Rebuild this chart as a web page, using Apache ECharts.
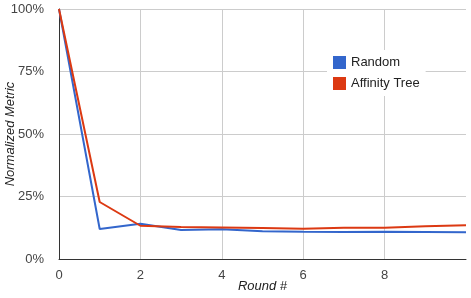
<!DOCTYPE html>
<html><head><meta charset="utf-8">
<script src="https://cdn.jsdelivr.net/npm/echarts@6/dist/echarts.min.js"></script>
<style>html,body{margin:0;padding:0;background:#fff}#c{width:471px;height:298px}</style>
</head><body><div id="c"></div>
<script>
var rounds = [0,1,2,3,4,5,6,7,8,9,10];
var randomVals = [100,12.0,14.1,11.6,11.9,11.1,10.9,10.8,10.9,10.8,10.7];
var affinityVals = [100,22.8,13.3,12.8,12.6,12.4,12.1,12.5,12.5,13.1,13.5];
var xTicks = [0,2,4,6,8];
var yTicks = [0,25,50,75,100];

var font = 'Liberation Sans, Arial, sans-serif';
var chart = echarts.init(document.getElementById('c'), null, {renderer:'canvas'});
function pairs(v){ return rounds.map(function(r,i){ return [r, v[i]]; }); }
chart.setOption({
  animation:false,
  grid:{left:59, right:5, top:9, bottom:39, containLabel:false, outerBoundsMode:'none'},
  legend:{
    left:327, top:50, orient:'vertical', icon:'rect', itemWidth:13, itemHeight:13, itemGap:8,
    padding:6, backgroundColor:'#fff',
    textStyle:{fontFamily:font, fontSize:13, color:'#222'},
    data:['Random','Affinity Tree']
  },
  xAxis:{
    type:'value', min:0, max:10, interval:2,
    name:'Round #', nameLocation:'middle', nameGap:21, nameMoveOverlap:false,
    nameTextStyle:{fontFamily:font, fontSize:13, fontStyle:'italic', color:'#222'},
    axisLine:{show:true, lineStyle:{color:'#333', width:1}},
    axisTick:{show:false},
    splitLine:{show:true, lineStyle:{color:['#ccc','#ccc','#ccc','#ccc','#ccc','rgba(0,0,0,0)'], width:1}},
    axisLabel:{fontFamily:font, fontSize:13, color:'#444', margin:10, showMaxLabel:false,
      formatter:function(v){ return xTicks.indexOf(v)>=0 ? String(v) : ''; }}
  },
  yAxis:{
    type:'value', min:0, max:100, interval:25,
    name:'Normalized Metric', nameLocation:'middle', nameGap:42, nameMoveOverlap:false,
    nameTextStyle:{fontFamily:font, fontSize:13, fontStyle:'italic', color:'#222'},
    axisLine:{show:true, lineStyle:{color:'#333', width:1}},
    axisTick:{show:false},
    splitLine:{show:true, lineStyle:{color:'#ccc', width:1}},
    axisLabel:{fontFamily:font, fontSize:13, color:'#444', margin:15,
      formatter:function(v){ return yTicks.indexOf(v)>=0 ? v+'%' : ''; }}
  },
  series:[
    {name:'Random', type:'line', data:pairs(randomVals), showSymbol:false, symbol:'none',
     itemStyle:{color:'#3366cc'}, lineStyle:{color:'#3366cc', width:2}, z:3},
    {name:'Affinity Tree', type:'line', data:pairs(affinityVals), showSymbol:false, symbol:'none',
     itemStyle:{color:'#dc3912'}, lineStyle:{color:'#dc3912', width:2}, z:4}
  ]
});
</script></body></html>
